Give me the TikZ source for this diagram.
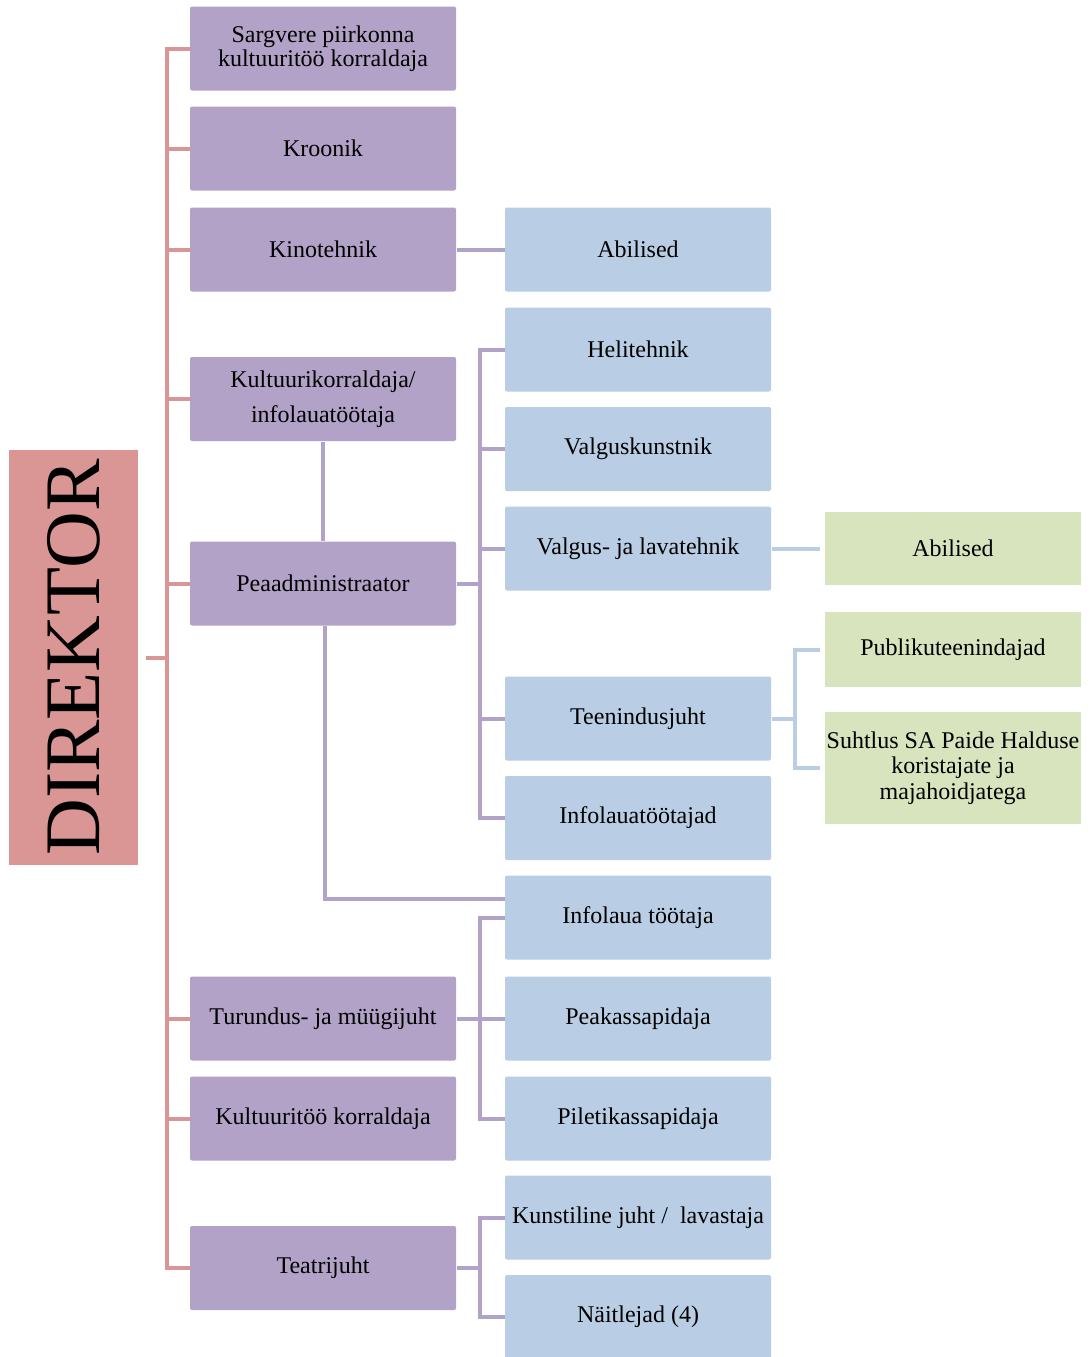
\documentclass[tikz,border=0pt]{standalone}
\usepackage{graphicx}
\usepackage{fontspec}
\setmainfont{Liberation Serif}
\definecolor{dirred}{RGB}{217,150,148}
\definecolor{rolepurple}{RGB}{178,162,199}
\definecolor{roleblue}{RGB}{185,205,229}
\definecolor{rolegreen}{RGB}{215,228,189}
\tikzset{every picture/.style={line width=0.75pt}}

\begin{document}
\begin{tikzpicture}[x=0.75pt,y=0.75pt,yscale=-1,xscale=1,
  role/.style={rounded corners=1.5pt,inner sep=0pt,align=center,font=\fontsize{18}{18}\selectfont,minimum width=199.5pt,minimum height=63pt},
  pbox/.style={role,fill=rolepurple},
  bbox/.style={role,fill=roleblue},
  gbox/.style={role,fill=rolegreen,rounded corners=0pt,minimum width=192pt},
  redline/.style={draw=dirred,line width=3pt},
  purpline/.style={draw=rolepurple,line width=3pt},
  blueline/.style={draw=roleblue,line width=3pt}]
%uncomment if require: \path (0,1357); %set diagram left start at 0, and has height of 1357
\useasboundingbox (0,0) rectangle (1090,1357);

%Shape: Rectangle [id:direktor]
\node (dir) [fill=dirred,inner sep=0pt,minimum width=96.75pt,minimum height=311.25pt] at (73.5,657.5) {\rotatebox{90}{\fontsize{59}{59}\selectfont DIREKTOR}};

% Purple column
\node (sarg) [pbox] at (323,48.5) {Sargvere piirkonna\\kultuuritöö korraldaja};
\node (kroon) [pbox] at (323,148.5) {Kroonik};
\node (kino) [pbox] at (323,249.5) {Kinotehnik};
\node (kultk) [pbox] at (323,399) {Kultuurikorraldaja/\\[8pt]infolauatöötaja};
\node (pead) [pbox] at (323,583.5) {Peaadministraator};
\node (turu) [pbox] at (323,1018.5) {Turundus- ja müügijuht};
\node (kultt) [pbox] at (323,1118.5) {Kultuuritöö korraldaja};
\node (teatr) [pbox] at (323,1268) {Teatrijuht};

% Blue column
\node (abil) [bbox] at (638,249.5) {Abilised};
\node (heli) [bbox] at (638,349.5) {Helitehnik};
\node (valgk) [bbox] at (638,449) {Valguskunstnik};
\node (valgl) [bbox] at (638,548.5) {Valgus- ja lavatehnik};
\node (teen) [bbox] at (638,718.5) {Teenindusjuht};
\node (infoj) [bbox] at (638,818) {Infolauatöötajad};
\node (infot) [bbox] at (638,917.5) {Infolaua töötaja};
\node (peak) [bbox] at (638,1018.5) {Peakassapidaja};
\node (pilet) [bbox] at (638,1118.5) {Piletikassapidaja};
\node (kunst) [bbox] at (638,1217.5) {Kunstiline juht /\ \ lavastaja};
\node (naitl) [bbox] at (638,1317) {Näitlejad (4)};

% Green column
\node (abilg) [gbox,minimum height=54.75pt] at (953,548.5) {Abilised};
\node (publ) [gbox,minimum height=56.25pt] at (953,649.5) {Publikuteenindajad};
\node (suht) [gbox,minimum height=84pt,font=\fontsize{18}{19}\selectfont] at (953,768) {Suhtlus SA Paide Halduse\\koristajate ja\\majahoidjatega};

%Straight Lines [id:director bus]
\coordinate (dirbus) at (167,657.5);
\draw [redline] ([xshift=5.25pt]dir.east) -- (dirbus);
\draw [redline] (sarg.west) -- ++(-23,0) |- (teatr.west);
\foreach \n in {kroon,kino,kultk,pead,turu,kultt}
  \draw [redline] (\n.west) -- ++(-23,0);

%Straight Lines [id:purple links]
\draw [purpline] (kino.east) -- (abil.west);
\draw [purpline] (kultk.south) -- (pead.north);
\draw [purpline] (pead.east) -- ++(24,0);
\draw [purpline] (heli.west) -- ++(-25,0) |- (infoj.west);
\foreach \n in {valgk,valgl,teen}
  \draw [purpline] (\n.west) -- ++(-25,0);
\draw [purpline] ([xshift=1.5pt]pead.south) |- ([yshift=-14pt]infot.west);
\draw [purpline] (infot.west) -- ++(-25,0) |- (pilet.west);
\draw [purpline] (turu.east) -- (peak.west);
\draw [purpline] (kunst.west) -- ++(-25,0) |- (naitl.west);
\draw [purpline] (teatr.east) -- ++(24,0);

%Straight Lines [id:blue links]
\draw [blueline] (valgl.east) -- ([xshift=-3.75pt]abilg.west);
\draw [blueline] (teen.east) -- ++(24,0);
\draw [blueline] ([xshift=-3.75pt]publ.west) -- ++(-25,0) |- ([xshift=-3.75pt]suht.west);

\end{tikzpicture}
\end{document}
